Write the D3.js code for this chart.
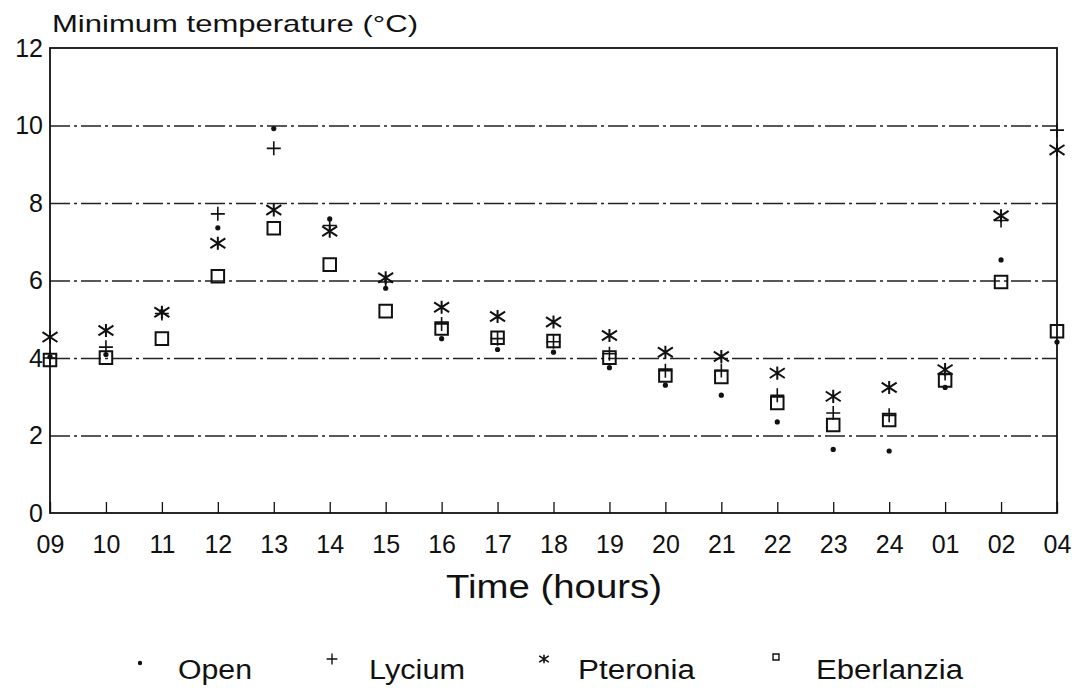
<!DOCTYPE html>
<html>
<head>
<meta charset="utf-8">
<script src="https://cdn.jsdelivr.net/npm/d3@7"></script>
<style>
  body { margin: 0; background: #fff; }
  svg { display: block; }
  text { font-family: "Liberation Sans", Arial, sans-serif; fill: #111; }
  .grid line { stroke: #222; stroke-width: 1.4; stroke-dasharray: 20,4,3,4; }
  .grid .domain { display: none; }
</style>
</head>
<body>
<svg id="chart"></svg>
<script>
// hours of the day (x categories)
const hours = ['09', '10', '11', '12', '13', '14', '15', '16', '17', '18',
  '19', '20', '21', '22', '23', '24', '01', '02', '04']

// minimum temperature (°C) per site
const open = [4.03, 4.09, 5.2, 7.36, 9.92, 7.59, 5.8, 4.5, 4.22, 4.15,
  3.75, 3.3, 3.04, 2.35, 1.64, 1.6, 3.24, 6.53, 4.41]
const lycium = [4.0, 4.28, 5.15, 7.72, 9.41, 7.42, 5.96, 4.88, 4.5, 4.42,
  4.11, 3.67, 3.68, 3.04, 2.58, 2.52, 3.6, 7.55, 9.88]
const pteronia = [4.54, 4.71, 5.18, 6.96, 7.82, 7.27, 6.07, 5.31, 5.07, 4.93,
  4.58, 4.15, 4.04, 3.61, 3.01, 3.24, 3.7, 7.67, 9.37]
const eberlanzia = [3.95, 4.01, 4.5, 6.11, 7.35, 6.41, 5.21, 4.76, 4.52, 4.44,
  4.01, 3.55, 3.51, 2.84, 2.27, 2.4, 3.42, 5.96, 4.69]

const yTicks = [0, 2, 4, 6, 8, 10, 12]
const seriesNames = ['Open', 'Lycium', 'Pteronia', 'Eberlanzia']

const width = 1079
const height = 688
const margin = { top: 48, right: 22, bottom: 175, left: 50 }
const w = width - margin.left - margin.right
const h = height - margin.top - margin.bottom

const svg = d3.select('#chart')
  .attr('width', width)
  .attr('height', height)

const chart = svg.append('g')
  .attr('transform', `translate(${margin.left}, ${margin.top})`)

const x = d3.scalePoint()
  .domain(hours)
  .range([0, w])

const y = d3.scaleLinear()
  .domain([0, 12])
  .range([h, 0])

// six-armed asterisk: vertical stroke plus two wide diagonals
const asterisk = {
  draw(context, size) {
    const r = Math.sqrt(size) / 2
    const u = r * 1.15
    const t = r * 0.75
    context.moveTo(0, r)
    context.lineTo(0, -r)
    context.moveTo(-u, -t)
    context.lineTo(u, t)
    context.moveTo(-u, t)
    context.lineTo(u, -t)
  }
}

// dash-dot grid lines at 2..10
chart.append('g')
  .attr('class', 'grid')
  .call(d3.axisLeft(y).tickValues(yTicks.filter(d => d > 0 && d < 12)).tickSize(-w).tickFormat(''))

// frame
chart.append('rect')
  .attr('width', w)
  .attr('height', h)
  .attr('fill', 'none')
  .attr('stroke', '#111')
  .attr('stroke-width', 1.8)

// y axis labels
const yAxis = chart.append('g')
  .call(d3.axisLeft(y).tickValues(yTicks).tickSize(0).tickPadding(7).tickFormat(d3.format('d')))
yAxis.select('.domain').remove()
yAxis.selectAll('text')
  .attr('font-size', 25)
  .style('font-family', '"Liberation Sans", Arial, sans-serif')
  .attr('fill', '#111')

// x axis with inward ticks
const xAxis = chart.append('g')
  .attr('transform', `translate(0, ${h})`)
  .call(d3.axisBottom(x).tickSize(-11).tickSizeOuter(0).tickPadding(30))
xAxis.select('.domain').remove()
xAxis.selectAll('line').attr('stroke', '#111').attr('stroke-width', 1.3)
xAxis.selectAll('text')
  .attr('font-size', 25)
  .style('font-family', '"Liberation Sans", Arial, sans-serif')
  .attr('fill', '#111')
  .attr('dy', '0.4em')

// titles
svg.append('text')
  .attr('x', 52)
  .attr('y', 32)
  .attr('font-size', 24)
  .attr('textLength', 366)
  .attr('lengthAdjust', 'spacingAndGlyphs')
  .text('Minimum temperature (°C)')

svg.append('text')
  .attr('x', 446)
  .attr('y', 598)
  .attr('font-size', 34)
  .attr('textLength', 216)
  .attr('lengthAdjust', 'spacingAndGlyphs')
  .text('Time (hours)')

// markers
const plus = d3.symbol().type(d3.symbolPlus).size(66)
const star = d3.symbol().type(asterisk).size(170)
const square = d3.symbol().type(d3.symbolSquare2).size(200)

function pts(values) {
  return values.map((v, i) => ({ hour: hours[i], value: v }))
}

chart.selectAll('.sq')
  .data(pts(eberlanzia))
  .join('path')
  .attr('class', 'sq')
  .attr('d', square)
  .attr('transform', d => `translate(${x(d.hour)}, ${y(d.value)})`)
  .attr('fill', 'none')
  .attr('stroke', '#111')
  .attr('stroke-width', 2)

chart.selectAll('.plus')
  .data(pts(lycium))
  .join('path')
  .attr('class', 'plus')
  .attr('d', plus)
  .attr('transform', d => `translate(${x(d.hour)}, ${y(d.value)})`)
  .attr('fill', 'none')
  .attr('stroke', '#111')
  .attr('stroke-width', 1.6)

chart.selectAll('.star')
  .data(pts(pteronia))
  .join('path')
  .attr('class', 'star')
  .attr('d', star)
  .attr('transform', d => `translate(${x(d.hour)}, ${y(d.value)})`)
  .attr('fill', 'none')
  .attr('stroke', '#111')
  .attr('stroke-width', 2)

chart.selectAll('.dot')
  .data(pts(open))
  .join('circle')
  .attr('class', 'dot')
  .attr('cx', d => x(d.hour))
  .attr('cy', d => y(d.value))
  .attr('r', 2.6)
  .attr('fill', '#111')

// legend
const legendX = [140, 332, 544, 776]
const legendTextX = [178, 369, 578, 816]
const legendLen = [74, 96, 117, 147]
const legend = svg.append('g').attr('transform', 'translate(0, 679)')

legend.append('circle').attr('cx', legendX[0]).attr('cy', -16).attr('r', 2.2).attr('fill', '#111')
legend.append('path')
  .attr('d', d3.symbol().type(d3.symbolPlus).size(40)())
  .attr('transform', `translate(${legendX[1]}, -20)`)
  .attr('fill', 'none').attr('stroke', '#111').attr('stroke-width', 1.4)
legend.append('path')
  .attr('d', d3.symbol().type(asterisk).size(70)())
  .attr('transform', `translate(${legendX[2]}, -20)`)
  .attr('fill', 'none').attr('stroke', '#111').attr('stroke-width', 1.6)
legend.append('path')
  .attr('d', d3.symbol().type(d3.symbolSquare2).size(45)())
  .attr('transform', `translate(${legendX[3]}, -22)`)
  .attr('fill', 'none').attr('stroke', '#111').attr('stroke-width', 1.4)

legend.selectAll('.ltext')
  .data(seriesNames)
  .join('text')
  .attr('class', 'ltext')
  .attr('x', (d, i) => legendTextX[i])
  .attr('y', 0)
  .attr('font-size', 27)
  .attr('textLength', (d, i) => legendLen[i])
  .attr('lengthAdjust', 'spacingAndGlyphs')
  .text(d => d)
</script>
</body>
</html>
